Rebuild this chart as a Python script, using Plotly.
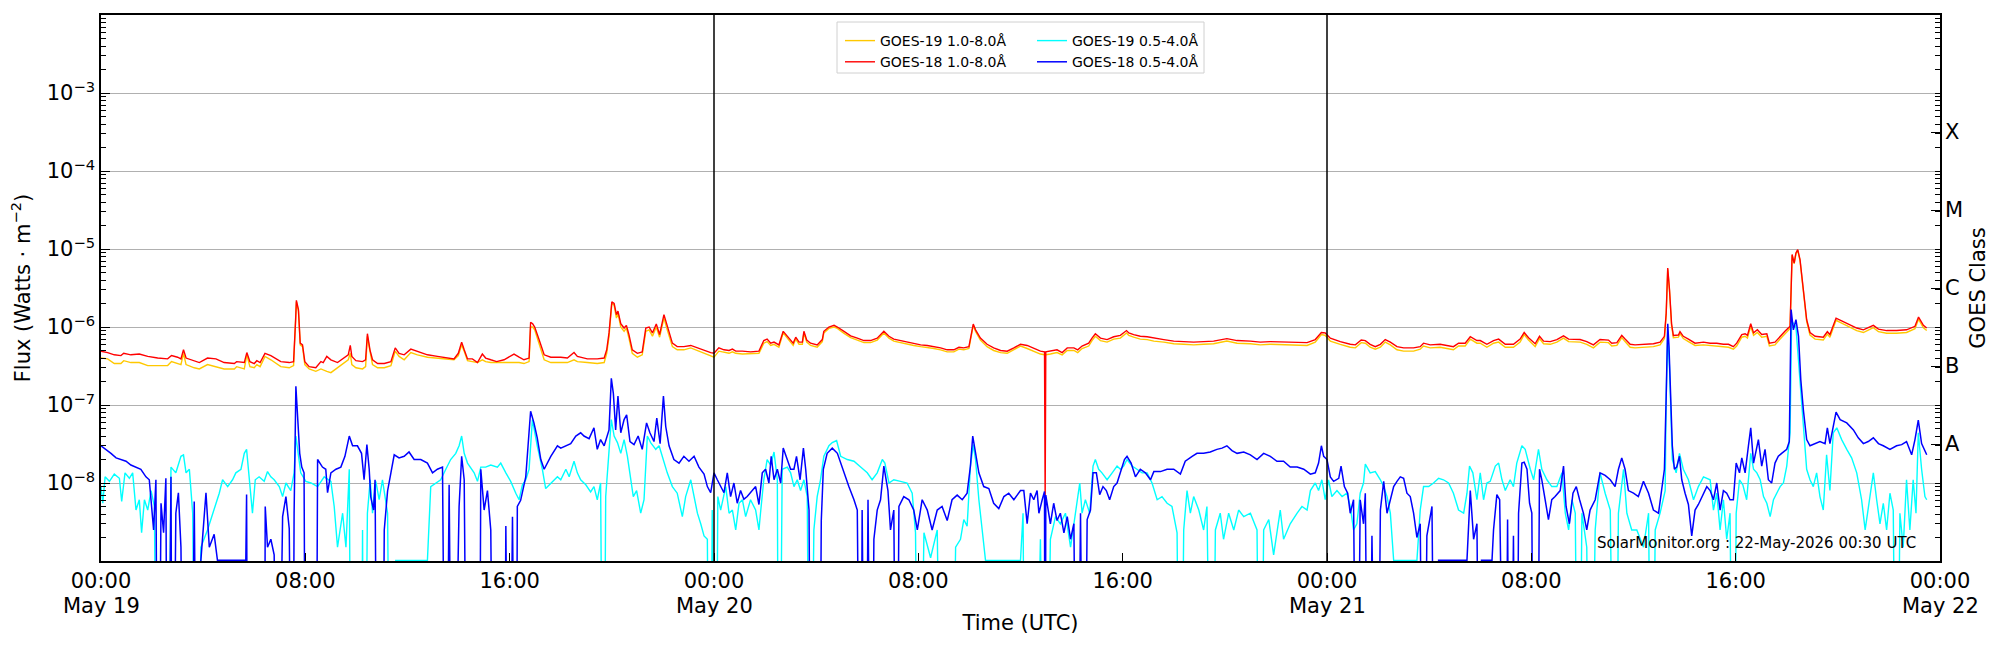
import pandas as pd
import plotly.graph_objects as go

OFF = 1e-13  # reading below the plotted floor (line leaves the axes)

# ---------------- 1.0-8.0 A channels (hours since 2026-05-19 00:00 UTC) ----------------
t_long_h = [
    0.00, 0.26, 0.52, 0.78, 0.89, 1.17, 1.50, 1.83, 2.22, 2.61, 2.76, 3.00, 3.13, 3.23, 3.33,
    3.65, 3.85, 4.17, 4.50, 4.82, 5.22, 5.31, 5.61, 5.71, 5.83, 6.00, 6.10, 6.23, 6.42, 6.65,
    7.04, 7.37, 7.54, 7.62, 7.65, 7.73, 7.80, 7.89, 7.98, 8.15, 8.41, 8.61, 8.70, 8.84, 9.00,
    9.26, 9.52, 9.68, 9.76, 9.82, 9.98, 10.24, 10.36, 10.43, 10.53, 10.63, 10.83, 11.09, 11.35, 11.52,
    11.67, 11.87, 12.13, 12.39, 12.78, 13.17, 13.56, 13.82, 13.99, 14.12, 14.22, 14.35, 14.54, 14.74, 14.93,
    15.06, 15.26, 15.49, 15.78, 16.17, 16.37, 16.56, 16.76, 16.82, 16.90, 16.98, 17.15, 17.35, 17.61, 18.00,
    18.26, 18.52, 18.65, 19.04, 19.43, 19.70, 19.80, 19.89, 20.00, 20.09,
    20.18, 20.24, 20.35, 20.48, 20.57, 20.67, 20.80, 21.00, 21.19, 21.33,
    21.46, 21.59, 21.74, 21.87, 22.04, 22.17, 22.37, 22.56, 22.82, 23.09,
    23.35, 23.61, 23.87, 24.00, 24.19, 24.39, 24.59, 24.72, 24.85, 25.11,
    25.43, 25.76, 25.95, 26.08, 26.22, 26.35, 26.54, 26.71, 26.87, 27.00,
    27.10, 27.20, 27.33, 27.46, 27.52, 27.63, 27.78, 28.04, 28.24, 28.30,
    28.50, 28.70, 28.83, 29.09, 29.35, 29.61, 29.87, 30.13, 30.39, 30.65,
    30.85, 31.04, 31.30, 31.56, 31.82, 32.09, 32.35, 32.61, 32.87, 33.13,
    33.39, 33.59, 33.78, 33.98, 34.15, 34.24, 34.43, 34.69, 34.95, 35.22,
    35.48, 35.74, 36.00,
    36.26, 36.52, 36.78, 36.94, 36.965, 36.99, 37.17, 37.43, 37.63, 37.83,
    38.09, 38.24, 38.41, 38.67, 38.80, 38.93, 39.13, 39.39, 39.65, 39.91,
    40.15, 40.24, 40.43, 40.69, 40.96, 41.22, 41.61, 42.00, 42.39, 42.78,
    43.17, 43.56, 44.08, 44.48, 45.00,
    45.39, 45.78, 46.30, 46.83, 47.22, 47.54, 47.78, 47.93, 48.13, 48.52,
    48.91, 49.11, 49.34, 49.50, 49.69, 49.89, 50.09, 50.28, 50.48, 50.74,
    51.00, 51.39, 51.65, 51.78, 52.04, 52.43, 52.69, 52.95, 53.15, 53.41,
    53.61, 53.87, 54.00,
    54.26, 54.52, 54.72, 54.98, 55.30, 55.56, 55.72, 55.89, 56.15, 56.32,
    56.48, 56.74, 57.00, 57.26, 57.46, 57.91, 58.17, 58.43, 58.69, 59.02,
    59.15, 59.35, 59.54, 59.67, 59.87, 60.06, 60.39, 60.78, 61.04, 61.21,
    61.28, 61.34, 61.41, 61.49, 61.56, 61.76, 61.82, 61.95, 62.15, 62.41,
    62.74, 63.00,
    63.26, 63.52, 63.72, 63.91, 64.04, 64.24, 64.37, 64.46, 64.59, 64.70,
    64.85, 65.02, 65.22, 65.32, 65.54, 65.74, 65.93, 66.13, 66.21, 66.29,
    66.36, 66.43, 66.52, 66.65, 66.78, 66.91, 67.11, 67.43, 67.59, 67.69,
    67.93, 68.15, 68.48, 68.74, 69.00, 69.39, 69.59, 69.91, 70.30, 70.69,
    71.02, 71.16, 71.35, 71.48,
]

goes18_long = [
    4.9e-7, 4.7e-7, 4.4e-7, 4.3e-7, 4.6e-7, 4.4e-7, 4.5e-7, 4.2e-7, 4.0e-7, 3.9e-7, 4.3e-7, 4.1e-7, 3.9e-7, 5.1e-7, 4.0e-7,
    3.7e-7, 3.5e-7, 4.0e-7, 3.9e-7, 3.5e-7, 3.4e-7, 3.6e-7, 3.5e-7, 4.7e-7, 3.6e-7, 3.4e-7, 3.7e-7, 3.5e-7, 4.6e-7, 4.3e-7,
    3.6e-7, 3.5e-7, 3.6e-7, 1.24e-6, 2.2e-6, 1.67e-6, 6.2e-7, 5.9e-7, 3.6e-7, 3.1e-7, 3.0e-7, 3.6e-7, 3.5e-7, 4.2e-7, 3.8e-7,
    3.5e-7, 4.0e-7, 4.4e-7, 5.8e-7, 4.2e-7, 3.7e-7, 3.6e-7, 3.8e-7, 8.2e-7, 5.1e-7, 3.8e-7, 3.4e-7, 3.4e-7, 3.6e-7, 5.4e-7,
    4.6e-7, 4.4e-7, 5.2e-7, 4.9e-7, 4.4e-7, 4.2e-7, 4.0e-7, 3.9e-7, 4.6e-7, 6.4e-7, 5.1e-7, 3.9e-7, 3.9e-7, 3.5e-7, 4.5e-7,
    4.0e-7, 3.8e-7, 3.6e-7, 3.8e-7, 4.5e-7, 4.1e-7, 3.8e-7, 4.0e-7, 1.15e-6, 1.1e-6, 1.0e-6, 6.9e-7, 4.4e-7, 4.1e-7, 4.1e-7,
    4.0e-7, 4.7e-7, 4.2e-7, 3.9e-7, 3.9e-7, 4.0e-7, 5.1e-7, 8.4e-7, 2.1e-6, 2.0e-6,
    1.44e-6, 1.6e-6, 1.1e-6, 9.7e-7, 1.05e-6, 8.0e-7, 5.1e-7, 4.6e-7, 4.8e-7, 9.7e-7,
    1.0e-6, 8.4e-7, 1.09e-6, 8.0e-7, 1.44e-6, 1.0e-6, 6.2e-7, 5.6e-7, 5.6e-7, 5.8e-7,
    5.4e-7, 5.0e-7, 4.7e-7, 4.6e-7, 5.4e-7, 5.1e-7, 5.0e-7, 5.2e-7, 4.9e-7, 4.9e-7,
    4.8e-7, 4.9e-7, 6.7e-7, 7.0e-7, 6.2e-7, 6.4e-7, 5.9e-7, 8.8e-7, 7.6e-7, 6.8e-7,
    6.2e-7, 7.4e-7, 6.4e-7, 6.4e-7, 8.8e-7, 6.8e-7, 6.2e-7, 5.9e-7, 6.9e-7, 8.8e-7,
    1.0e-6, 1.05e-6, 1.0e-6, 8.8e-7, 7.7e-7, 7.2e-7, 6.7e-7, 6.7e-7, 7.2e-7, 8.8e-7,
    7.6e-7, 7.0e-7, 6.7e-7, 6.5e-7, 6.2e-7, 5.9e-7, 5.8e-7, 5.6e-7, 5.4e-7, 5.1e-7,
    5.1e-7, 5.5e-7, 5.4e-7, 5.6e-7, 1.09e-6, 9.2e-7, 7.2e-7, 6.0e-7, 5.4e-7, 5.0e-7,
    4.9e-7, 5.4e-7, 6.0e-7,
    5.8e-7, 5.3e-7, 4.9e-7, 4.8e-7, 6.0e-9, 4.8e-7, 4.9e-7, 5.1e-7, 4.7e-7, 5.4e-7,
    5.4e-7, 5.1e-7, 5.7e-7, 6.2e-7, 7.2e-7, 8.2e-7, 7.2e-7, 6.9e-7, 7.5e-7, 7.8e-7,
    9.0e-7, 8.4e-7, 8.0e-7, 7.6e-7, 7.5e-7, 7.2e-7, 6.9e-7, 6.6e-7, 6.5e-7, 6.4e-7,
    6.5e-7, 6.6e-7, 7.1e-7, 6.7e-7, 6.6e-7,
    6.4e-7, 6.5e-7, 6.4e-7, 6.4e-7, 6.3e-7, 6.9e-7, 8.5e-7, 8.4e-7, 7.2e-7, 6.5e-7,
    6.0e-7, 5.9e-7, 6.8e-7, 6.7e-7, 6.0e-7, 5.6e-7, 6.0e-7, 6.9e-7, 6.4e-7, 5.6e-7,
    5.4e-7, 5.4e-7, 5.6e-7, 6.2e-7, 5.9e-7, 6.0e-7, 5.8e-7, 5.6e-7, 6.2e-7, 6.2e-7,
    7.5e-7, 6.7e-7, 6.7e-7,
    6.0e-7, 6.7e-7, 7.0e-7, 6.0e-7, 6.0e-7, 7.0e-7, 8.5e-7, 7.3e-7, 6.1e-7, 7.6e-7,
    6.6e-7, 6.5e-7, 6.9e-7, 7.7e-7, 7.0e-7, 6.9e-7, 6.5e-7, 5.9e-7, 6.9e-7, 6.8e-7,
    6.2e-7, 6.3e-7, 7.8e-7, 7.0e-7, 6.0e-7, 5.9e-7, 6.0e-7, 6.1e-7, 6.4e-7, 7.6e-7,
    1.5e-6, 5.7e-6, 3.0e-6, 1.1e-6, 7.8e-7, 7.9e-7, 8.7e-7, 7.6e-7, 7.0e-7, 6.2e-7,
    6.4e-7, 6.2e-7,
    6.2e-7, 6.0e-7, 6.0e-7, 5.6e-7, 6.2e-7, 8.0e-7, 8.2e-7, 7.8e-7, 1.1e-6, 8.4e-7,
    9.2e-7, 8.0e-7, 8.2e-7, 6.2e-7, 6.4e-7, 7.6e-7, 8.8e-7, 1.02e-6, 8.5e-6, 6.6e-6,
    8.9e-6, 9.8e-6, 7.3e-6, 3.0e-6, 1.24e-6, 8.5e-7, 7.6e-7, 7.4e-7, 8.7e-7, 8.0e-7,
    1.3e-6, 1.2e-6, 1.06e-6, 9.7e-7, 9.2e-7, 1.05e-6, 9.4e-7, 9.0e-7, 9.0e-7, 9.2e-7,
    1.02e-6, 1.34e-6, 1.05e-6, 9.7e-7,
]

goes19_long = [
    4.0e-7, 3.9e-7, 3.4e-7, 3.4e-7, 3.7e-7, 3.5e-7, 3.5e-7, 3.2e-7, 3.2e-7, 3.2e-7, 3.6e-7, 3.4e-7, 3.3e-7, 4.6e-7, 3.3e-7,
    3.0e-7, 2.9e-7, 3.3e-7, 3.1e-7, 2.9e-7, 2.9e-7, 3.1e-7, 2.9e-7, 4.4e-7, 3.1e-7, 3.0e-7, 3.3e-7, 3.1e-7, 4.2e-7, 3.8e-7,
    3.1e-7, 3.0e-7, 3.2e-7, 1.1e-6, 2.1e-6, 1.6e-6, 5.9e-7, 5.6e-7, 3.3e-7, 2.9e-7, 2.7e-7, 2.9e-7, 2.8e-7, 2.7e-7, 2.6e-7,
    3.0e-7, 3.5e-7, 3.8e-7, 4.6e-7, 3.3e-7, 3.0e-7, 2.9e-7, 3.1e-7, 7.6e-7, 4.9e-7, 3.3e-7, 3.0e-7, 3.0e-7, 3.2e-7, 4.9e-7,
    4.2e-7, 3.8e-7, 4.7e-7, 4.4e-7, 4.1e-7, 4.0e-7, 3.9e-7, 3.8e-7, 4.3e-7, 5.9e-7, 4.9e-7, 3.7e-7, 3.6e-7, 3.5e-7, 3.8e-7,
    3.6e-7, 3.5e-7, 3.5e-7, 3.5e-7, 3.5e-7, 3.5e-7, 3.4e-7, 3.6e-7, 1.0e-6, 1.0e-6, 9.2e-7, 6.2e-7, 3.8e-7, 3.5e-7, 3.5e-7,
    3.5e-7, 3.8e-7, 3.6e-7, 3.5e-7, 3.4e-7, 3.5e-7, 4.6e-7, 7.6e-7, 2.0e-6, 1.9e-6,
    1.3e-6, 1.5e-6, 1.0e-6, 8.8e-7, 9.7e-7, 7.2e-7, 4.6e-7, 4.1e-7, 4.4e-7, 8.8e-7,
    9.2e-7, 7.6e-7, 1.0e-6, 7.4e-7, 1.3e-6, 9.2e-7, 5.6e-7, 5.1e-7, 5.1e-7, 5.4e-7,
    5.0e-7, 4.6e-7, 4.3e-7, 4.1e-7, 4.9e-7, 4.7e-7, 4.6e-7, 4.8e-7, 4.6e-7, 4.5e-7,
    4.5e-7, 4.6e-7, 6.2e-7, 6.5e-7, 5.8e-7, 6.0e-7, 5.5e-7, 8.4e-7, 7.2e-7, 6.4e-7,
    5.8e-7, 7.0e-7, 6.0e-7, 6.0e-7, 8.4e-7, 6.4e-7, 5.8e-7, 5.5e-7, 6.5e-7, 8.4e-7,
    9.6e-7, 1.0e-6, 9.6e-7, 8.3e-7, 7.3e-7, 6.8e-7, 6.3e-7, 6.3e-7, 6.8e-7, 8.4e-7,
    7.2e-7, 6.6e-7, 6.3e-7, 6.1e-7, 5.8e-7, 5.6e-7, 5.5e-7, 5.3e-7, 5.1e-7, 4.8e-7,
    4.8e-7, 5.2e-7, 5.1e-7, 5.3e-7, 1.05e-6, 8.8e-7, 6.8e-7, 5.6e-7, 5.0e-7, 4.7e-7,
    4.6e-7, 5.1e-7, 5.7e-7,
    5.3e-7, 4.9e-7, 4.5e-7, 4.4e-7, 4.4e-7, 4.4e-7, 4.5e-7, 4.7e-7, 4.4e-7, 5.0e-7,
    5.0e-7, 4.7e-7, 5.3e-7, 5.7e-7, 6.7e-7, 7.6e-7, 6.7e-7, 6.4e-7, 7.0e-7, 7.2e-7,
    8.4e-7, 7.8e-7, 7.4e-7, 7.0e-7, 6.9e-7, 6.6e-7, 6.4e-7, 6.1e-7, 6.0e-7, 5.9e-7,
    6.0e-7, 6.1e-7, 6.6e-7, 6.2e-7, 6.1e-7,
    5.9e-7, 6.0e-7, 5.9e-7, 5.9e-7, 5.8e-7, 6.4e-7, 8.0e-7, 7.8e-7, 6.6e-7, 6.0e-7,
    5.5e-7, 5.4e-7, 6.3e-7, 6.2e-7, 5.5e-7, 5.2e-7, 5.5e-7, 6.4e-7, 5.9e-7, 5.1e-7,
    4.9e-7, 4.9e-7, 5.2e-7, 5.7e-7, 5.4e-7, 5.5e-7, 5.3e-7, 5.1e-7, 5.7e-7, 5.7e-7,
    7.0e-7, 6.2e-7, 6.2e-7,
    5.5e-7, 6.2e-7, 6.4e-7, 5.5e-7, 5.5e-7, 6.4e-7, 8.0e-7, 6.8e-7, 5.6e-7, 7.1e-7,
    6.1e-7, 6.0e-7, 6.4e-7, 7.2e-7, 6.5e-7, 6.4e-7, 6.0e-7, 5.4e-7, 6.4e-7, 6.3e-7,
    5.7e-7, 5.8e-7, 7.3e-7, 6.5e-7, 5.5e-7, 5.4e-7, 5.5e-7, 5.6e-7, 5.9e-7, 7.1e-7,
    1.45e-6, 5.5e-6, 2.9e-6, 1.05e-6, 7.3e-7, 7.4e-7, 8.2e-7, 7.1e-7, 6.5e-7, 5.8e-7,
    5.9e-7, 5.8e-7,
    5.7e-7, 5.5e-7, 5.5e-7, 5.2e-7, 5.7e-7, 7.4e-7, 7.6e-7, 7.2e-7, 1.02e-6, 7.8e-7,
    8.5e-7, 7.4e-7, 7.6e-7, 5.7e-7, 5.9e-7, 7.0e-7, 8.2e-7, 9.6e-7, 8.3e-6, 6.5e-6,
    8.7e-6, 9.6e-6, 7.1e-6, 2.9e-6, 1.18e-6, 7.9e-7, 7.0e-7, 6.8e-7, 8.1e-7, 7.4e-7,
    1.22e-6, 1.12e-6, 9.9e-7, 9.0e-7, 8.5e-7, 9.8e-7, 8.7e-7, 8.3e-7, 8.3e-7, 8.5e-7,
    9.5e-7, 1.26e-6, 9.8e-7, 9.0e-7,
]

# ---------------- GOES-18 0.5-4.0 A ----------------
t_g18_short_h = [
    0.00, 0.20, 0.39, 0.59, 0.78, 0.98, 1.17, 1.37, 1.56, 1.76,
    1.89, 1.96, 2.06, 2.15, 2.24, 2.35, 2.45, 2.54, 2.61, 2.74,
    2.80, 2.93, 3.03, 3.13, 3.26, 3.52, 3.65, 3.78, 3.91, 4.11,
    4.24, 4.43, 4.56, 5.67, 5.70, 5.76, 6.39, 6.43, 6.52, 6.65,
    6.78, 6.91, 7.11, 7.24, 7.37, 7.50, 7.56, 7.63, 7.69, 7.78,
    7.86, 7.95, 8.02, 8.41, 8.48, 8.67, 8.80, 8.87, 9.00,
    9.20, 9.39, 9.55, 9.72, 9.85, 10.04, 10.20, 10.30, 10.41, 10.50,
    10.56, 10.67, 10.73, 10.83, 11.00, 11.09, 11.22, 11.35, 11.48, 11.67,
    11.87, 12.06, 12.26, 12.52, 12.78, 12.98, 13.17, 13.37, 13.50, 13.63,
    13.76, 14.02, 14.12, 14.22, 14.35, 14.80, 14.87, 15.00, 15.13, 15.26,
    15.39, 15.78, 15.85, 15.98, 16.11, 16.24, 16.30, 16.43, 16.54, 16.63,
    16.72, 16.82, 16.95, 17.08, 17.22, 17.35, 17.61, 17.87, 18.00,
    18.20, 18.39, 18.59, 18.78, 18.91, 19.11, 19.30, 19.43, 19.56, 19.70,
    19.89, 19.98, 20.06, 20.15, 20.24, 20.35, 20.48, 20.58, 20.71, 20.87,
    21.03, 21.19, 21.36, 21.49, 21.65, 21.76, 21.89, 22.02, 22.11, 22.24,
    22.43, 22.63, 22.82, 23.02, 23.22, 23.41, 23.61, 23.74, 23.87, 24.00,
    24.13, 24.26, 24.39, 24.52, 24.65, 24.78, 24.91, 25.04, 25.17, 25.30,
    25.43, 25.63, 25.76, 25.89, 26.02, 26.15, 26.24, 26.35, 26.48, 26.61,
    26.71, 26.87, 27.00,
    27.13, 27.23, 27.37, 27.50, 27.59, 27.72, 27.81, 28.11, 28.20, 28.28,
    28.43, 28.63, 28.83, 28.96, 29.09, 29.28, 29.48, 29.61, 29.74, 29.80,
    29.93, 30.03, 30.16, 30.26, 30.39, 30.52, 30.65, 30.81, 30.91, 31.04,
    31.15, 31.24, 31.43, 31.63, 31.82, 31.96, 32.15, 32.35, 32.54, 32.74,
    32.93, 33.13, 33.32, 33.52, 33.72, 33.91, 34.04, 34.13, 34.24, 34.37,
    34.56, 34.76, 34.95, 35.15, 35.35, 35.54, 35.74, 36.00,
    36.13, 36.26, 36.39, 36.52, 36.65, 36.72, 36.85, 36.94, 36.965, 36.99,
    37.17, 37.30, 37.43, 37.56, 37.70, 37.83, 37.96, 38.09, 38.22, 38.35,
    38.48, 38.61, 38.74, 38.84, 38.97, 39.10, 39.23, 39.36, 39.49, 39.65,
    39.78, 39.91, 40.07, 40.17, 40.33, 40.50, 40.69, 40.89, 41.09, 41.22,
    41.48, 41.74, 42.00, 42.26, 42.45, 42.72, 42.91, 43.17, 43.43, 43.69,
    43.89, 44.08, 44.28, 44.48, 44.74, 45.00,
    45.26, 45.52, 45.78, 46.04, 46.30, 46.56, 46.83, 47.09, 47.35, 47.54,
    47.67, 47.78, 47.87, 48.00, 48.13, 48.26, 48.46, 48.55, 48.68, 48.81,
    48.91, 49.04, 49.17, 49.30, 49.43, 49.50, 49.63, 49.76, 49.96, 50.09,
    50.22, 50.35, 50.48, 50.61, 50.74, 50.87, 51.00, 51.13, 51.26, 51.39,
    51.52, 51.65, 51.78, 51.91, 52.11, 52.24, 52.37, 53.48, 53.61, 53.74,
    53.87, 54.00,
    54.05, 54.46, 54.52, 54.65, 54.76, 54.85, 54.98, 55.07, 55.17, 55.30,
    55.41, 55.50, 55.63, 55.72, 55.83, 55.93, 56.02, 56.11, 56.22, 56.32,
    56.41, 56.54, 56.67, 56.80, 56.93, 57.13, 57.26, 57.36, 57.49, 57.63,
    57.76, 57.89, 58.04, 58.17, 58.30, 58.50, 58.69, 58.89, 59.09, 59.28,
    59.41, 59.54, 59.67, 59.80, 60.00, 60.19, 60.39, 60.59, 60.78, 60.98,
    61.11, 61.21, 61.28, 61.30, 61.34, 61.39, 61.46, 61.52, 61.60, 61.69,
    61.80, 61.89, 62.02, 62.15, 62.28, 62.41, 62.54, 62.74, 62.87, 63.00,
    63.13, 63.26, 63.39, 63.52, 63.65, 63.78, 63.91, 64.02, 64.15, 64.24,
    64.37, 64.50, 64.59, 64.70, 64.83, 64.89, 65.02, 65.15, 65.28, 65.41,
    65.54, 65.67, 65.80, 66.00, 66.10, 66.17, 66.26, 66.36, 66.46, 66.55,
    66.65, 66.78, 66.91, 67.11, 67.30, 67.50, 67.59, 67.69, 67.85, 67.93,
    68.09, 68.35, 68.61, 68.80, 69.00, 69.19, 69.39, 69.59, 69.78, 70.04,
    70.30, 70.50, 70.69, 70.89, 71.02, 71.15, 71.28, 71.48,
]

goes18_short = [
    3.0e-8, 2.7e-8, 2.4e-8, 2.1e-8, 2.0e-8, 1.9e-8, 1.7e-8, 1.6e-8, 1.5e-8, 1.2e-8,
    1.1e-8, 6.0e-9, 2.5e-9, 1.1e-8, OFF, 5.5e-9, 2.3e-9, 1.15e-8, OFF, 1.2e-8,
    OFF, 4.1e-9, 7.5e-9, 1.5e-9, OFF, OFF, 5.8e-9, OFF, 1.02e-9, 7.5e-9,
    1.5e-9, 2.2e-9, 1.02e-9, 1.02e-9, 7.1e-9, OFF, OFF, 5.0e-9, 1.5e-9, 1.9e-9,
    1.2e-9, OFF, 3.7e-9, 6.7e-9, 2.6e-9, OFF, 4.1e-9, 1.74e-7, 7.9e-8, 2.4e-8,
    1.6e-8, 1.35e-8, OFF, OFF, 2.0e-8, 1.6e-8, 1.5e-8, 7.5e-9, 1.35e-8,
    1.5e-8, 1.6e-8, 2.2e-8, 4.0e-8, 3.0e-8, 3.0e-8, 2.4e-8, 1.1e-8, 3.1e-8, 1.5e-8,
    6.7e-9, 4.5e-9, 1.1e-8, OFF, OFF, 2.5e-9, 7.9e-9, 1.35e-8, 2.3e-8, 2.1e-8,
    2.2e-8, 2.5e-8, 2.0e-8, 2.0e-8, 1.8e-8, 1.35e-8, 1.5e-8, 1.6e-8, OFF, 9.5e-9,
    OFF, 5.0e-9, 2.2e-8, 1.1e-8, OFF, OFF, 1.5e-8, 4.5e-9, 8.0e-9, 2.5e-9,
    OFF, OFF, 2.8e-9, OFF, 3.7e-9, OFF, 5.0e-9, 6.0e-9, 9.0e-9, 1.2e-8,
    3.0e-8, 8.3e-8, 5.9e-8, 3.8e-8, 2.0e-8, 1.5e-8, 2.2e-8, 3.0e-8, 2.8e-8,
    3.0e-8, 3.2e-8, 4.0e-8, 4.4e-8, 4.0e-8, 3.7e-8, 5.1e-8, 2.7e-8, 3.6e-8, 3.0e-8,
    4.8e-8, 2.2e-7, 1.4e-7, 4.8e-8, 1.3e-7, 4.4e-8, 6.5e-8, 7.5e-8, 3.4e-8, 3.1e-8,
    4.0e-8, 2.7e-8, 5.9e-8, 4.4e-8, 3.4e-8, 6.8e-8, 3.2e-8, 1.3e-7, 5.3e-8, 3.0e-8,
    2.0e-8, 1.8e-8, 2.2e-8, 1.9e-8, 2.2e-8, 1.6e-8, 1.3e-8, 9.0e-9, 7.5e-9, 1.35e-8,
    1.1e-8, 9.0e-9, 7.5e-9, 1.35e-8, 6.7e-9, 1.0e-8, 5.5e-9, 8.0e-9, 6.2e-9, 6.7e-9,
    7.5e-9, 9.0e-9, 5.3e-9, 1.35e-8, 1.5e-8, 1.0e-8, 2.2e-8, 1.1e-8, 1.5e-8, 1.0e-8,
    2.8e-8, 2.0e-8, 1.5e-8,
    1.5e-8, 2.2e-8, 1.1e-8, 2.8e-8, 1.5e-8, 4.5e-9, OFF, OFF, 3.3e-9, 1.5e-8,
    2.4e-8, 2.8e-8, 2.4e-8, 1.8e-8, 1.35e-8, 9.0e-9, 6.1e-9, 4.5e-9, OFF, 4.5e-9,
    OFF, 6.1e-9, OFF, 1.9e-9, 4.5e-9, 6.1e-9, 1.65e-8, 8.0e-9, 2.5e-9, 4.5e-9,
    OFF, 5.0e-9, 6.7e-9, 6.1e-9, 4.5e-9, 2.5e-9, 6.1e-9, 4.5e-9, 2.5e-9, 4.5e-9,
    5.0e-9, 3.3e-9, 6.1e-9, 7.0e-9, 6.1e-9, 7.4e-9, 1.65e-8, 4.0e-8, 2.4e-8, 1.35e-8,
    9.0e-9, 8.5e-9, 5.5e-9, 4.7e-9, 6.7e-9, 7.4e-9, 6.1e-9, 8.0e-9,
    8.0e-9, 3.0e-9, 7.4e-9, 6.1e-9, 8.0e-9, 4.1e-9, 6.1e-9, 7.8e-9, OFF, 7.0e-9,
    3.0e-9, 5.5e-9, 3.3e-9, 4.1e-9, 2.3e-9, 3.7e-9, 1.9e-9, 3.0e-9, OFF, 4.1e-9,
    OFF, 3.4e-9, 4.5e-9, 1.35e-8, 1.35e-8, 7.1e-9, 9.0e-9, 8.0e-9, 6.1e-9, 9.0e-9,
    1.0e-8, 1.35e-8, 2.0e-8, 2.2e-8, 1.8e-8, 1.2e-8, 1.5e-8, 1.35e-8, 1.1e-8, 1.4e-8,
    1.4e-8, 1.5e-8, 1.5e-8, 1.3e-8, 1.9e-8, 2.2e-8, 2.4e-8, 2.4e-8, 2.5e-8, 2.7e-8,
    2.8e-8, 3.0e-8, 2.6e-8, 2.4e-8, 2.5e-8, 2.3e-8,
    2.0e-8, 2.4e-8, 2.2e-8, 1.9e-8, 1.9e-8, 1.6e-8, 1.6e-8, 1.5e-8, 1.3e-8, 1.35e-8,
    1.8e-8, 3.0e-8, 2.2e-8, 2.0e-8, 1.2e-8, 1.05e-8, 1.15e-8, 1.65e-8, 9.0e-9, 7.4e-9,
    4.1e-9, 6.1e-9, OFF, 6.1e-9, 3.0e-9, 7.4e-9, OFF, 2.1e-9, OFF, 4.5e-9,
    1.05e-8, 4.1e-9, 6.1e-9, 9.0e-9, 1.05e-8, 1.2e-8, 1.15e-8, 7.4e-9, 6.7e-9, 4.1e-9,
    2.0e-9, 3.0e-9, OFF, 2.1e-9, 5.0e-9, OFF, 1.02e-9, 1.02e-9, 8.0e-9, 1.9e-9,
    3.0e-9, OFF,
    1.02e-9, 1.02e-9, 2.5e-9, 7.1e-9, 6.1e-9, OFF, OFF, 3.4e-9, OFF, 2.1e-9,
    OFF, 4.1e-9, 1.8e-8, 1.85e-8, 1.5e-8, 5.5e-9, 4.1e-9, OFF, OFF, 1.5e-8,
    1.1e-8, 6.1e-9, 3.4e-9, 6.1e-9, 6.7e-9, 8.0e-9, 1.65e-8, 5.0e-9, 3.0e-9, 7.4e-9,
    9.0e-9, 6.1e-9, 4.1e-9, 2.5e-9, 4.5e-9, 6.1e-9, 1.35e-8, 1.25e-8, 1.1e-8, 9.0e-9,
    1.5e-8, 2.1e-8, 1.5e-8, 8.0e-9, 7.4e-9, 6.7e-9, 1.05e-8, 7.4e-9, 4.5e-9, 4.1e-9,
    8.0e-9, 1.5e-8, 1.3e-7, 3.1e-7, 1.1e-6, 5.6e-7, 1.3e-7, 3.0e-8, 1.5e-8, 1.6e-8,
    2.2e-8, 1.1e-8, 7.4e-9, 5.3e-9, 2.1e-9, 4.5e-9, 5.3e-9, 7.4e-9, 9.0e-9, 8.0e-9,
    6.1e-9, 1.0e-8, 4.5e-9, 8.0e-9, 7.4e-9, 6.1e-9, 6.1e-9, 1.8e-8, 1.35e-8, 2.1e-8,
    1.35e-8, 3.0e-8, 5.1e-8, 1.8e-8, 3.0e-8, 3.6e-8, 1.65e-8, 2.7e-8, 1.1e-8, 1.0e-8,
    1.8e-8, 2.2e-8, 2.4e-8, 2.7e-8, 3.4e-8, 1.67e-6, 9.2e-7, 1.24e-6, 7.6e-7, 2.1e-7,
    8.7e-8, 3.6e-8, 3.0e-8, 3.2e-8, 3.4e-8, 3.2e-8, 5.1e-8, 3.2e-8, 5.9e-8, 8.1e-8,
    6.5e-8, 5.9e-8, 4.8e-8, 3.8e-8, 3.2e-8, 3.4e-8, 3.8e-8, 3.2e-8, 3.0e-8, 2.7e-8,
    3.0e-8, 3.1e-8, 3.4e-8, 2.3e-8, 3.6e-8, 6.4e-8, 3.2e-8, 2.3e-8,
]

# ---------------- GOES-19 0.5-4.0 A ----------------
t_g19_short_h = [
    0.00, 0.07, 0.16, 0.33, 0.52, 0.72, 0.81, 0.94, 1.11, 1.24,
    1.37, 1.50, 1.59, 1.70, 1.83, 1.96, 2.09, 2.22, 2.61, 2.74,
    2.93, 3.13, 3.23, 3.33, 3.46, 3.59, 3.72, 3.91, 4.17, 4.43,
    4.63, 4.76, 4.96, 5.15, 5.28, 5.48, 5.61, 5.70, 5.80, 5.93,
    6.04, 6.19, 6.39, 6.52, 6.65, 6.78, 6.98, 7.11, 7.24, 7.43,
    7.56, 7.63, 7.82, 8.02, 8.22, 8.48, 8.74, 9.00,
    9.13, 9.26, 9.46, 9.59, 9.72, 9.81, 10.17, 10.24, 10.30, 10.43,
    10.54, 10.63, 10.76, 10.89, 11.02, 11.22, 11.35, 11.54, 12.78, 12.91,
    13.11, 13.30, 13.50, 13.69, 13.89, 14.02, 14.12, 14.22, 14.35, 14.61,
    14.74, 14.87, 15.06, 15.26, 15.52, 15.65, 15.85, 16.04, 16.24, 16.37,
    16.50, 16.63, 16.76, 16.89, 17.08, 17.28, 17.41, 17.61, 17.87, 18.00,
    18.20, 18.33, 18.52, 18.65, 18.78, 18.98, 19.17, 19.30, 19.43, 19.56,
    19.67, 19.76, 19.89, 19.98, 20.09, 20.22, 20.35, 20.48, 20.61, 20.74,
    20.84, 20.97, 21.13, 21.26, 21.39, 21.52, 21.72, 21.85, 21.98, 22.17,
    22.37, 22.56, 22.76, 22.89, 23.09, 23.22, 23.35, 23.48, 23.61, 23.74,
    23.84, 23.93, 24.06, 24.15, 24.26, 24.46, 24.59, 24.72, 24.85, 24.98,
    25.11, 25.24, 25.43, 25.63, 25.76, 25.82, 25.95, 26.08, 26.22, 26.35,
    26.48, 26.54, 26.67, 26.87, 27.00,
    27.13, 27.26, 27.39, 27.52, 27.65, 27.76, 27.91, 28.04, 28.17, 28.30,
    28.50, 28.63, 28.80, 28.96, 29.22, 29.48, 29.74, 30.00, 30.19, 30.39,
    30.59, 30.69, 30.85, 31.04, 31.30, 31.56, 31.76, 31.89, 32.02, 32.22,
    32.48, 32.74, 32.93, 33.26, 33.46, 33.65, 33.78, 33.91, 34.04, 34.15,
    34.24, 34.37, 34.50, 34.63, 36.00,
    36.10, 36.20, 36.52, 36.78, 36.98, 37.17, 37.37, 37.56, 37.76, 37.96,
    38.15, 38.32, 38.41, 38.54, 38.71, 38.84, 38.93, 39.06, 39.19, 39.39,
    39.59, 39.78, 39.91, 40.04, 40.17, 40.37, 40.56, 40.76, 40.96, 41.15,
    41.35, 41.54, 41.74, 41.93, 42.13, 42.26, 42.39, 42.52, 42.65, 42.78,
    42.98, 43.17, 43.30, 43.50, 43.63, 43.82, 43.95, 44.15, 44.35, 44.54,
    44.74, 45.00,
    45.26, 45.39, 45.52, 45.72, 45.91, 46.17, 46.30, 46.56, 46.83, 47.02,
    47.22, 47.35, 47.54, 47.67, 47.80, 47.93, 48.06, 48.19, 48.39, 48.59,
    48.78, 48.91, 49.04, 49.17, 49.30, 49.43, 49.50, 49.69, 49.89, 50.09,
    50.22, 50.35, 50.48, 50.61, 51.52, 51.65, 51.78, 51.98, 52.17, 52.37,
    52.56, 52.76, 52.95, 53.15, 53.35, 53.48, 53.58, 53.71, 53.87, 54.00,
    54.13, 54.26, 54.39, 54.59, 54.72, 54.85, 54.98, 55.17, 55.30, 55.43,
    55.63, 55.76, 55.96, 56.09, 56.28, 56.41, 56.61, 56.80, 57.00, 57.20,
    57.33, 57.46, 57.59, 57.72, 57.85, 57.98, 58.17, 58.30, 58.50, 58.69,
    58.89, 59.09, 59.28, 59.41, 59.61, 59.74, 59.93, 60.13, 60.39, 60.59,
    60.72, 60.85, 61.04, 61.24, 61.28, 61.34, 61.41, 61.46, 61.52, 61.67,
    61.80, 61.95, 62.15, 62.35, 62.54, 62.74, 63.00,
    63.13, 63.26, 63.39, 63.52, 63.65, 63.78, 63.91, 64.02, 64.15, 64.28,
    64.43, 64.59, 64.70, 64.83, 64.96, 65.09, 65.22, 65.35, 65.48, 65.61,
    65.74, 65.87, 66.00, 66.13, 66.19, 66.36, 66.52, 66.65, 66.78, 66.91,
    67.04, 67.17, 67.30, 67.43, 67.56, 67.69, 67.82, 67.96, 68.15, 68.35,
    68.54, 68.74, 68.93, 69.07, 69.19, 69.39, 69.52, 69.65, 69.78, 69.91,
    70.04, 70.17, 70.30, 70.43, 70.56, 70.69, 70.82, 70.95, 71.06, 71.15,
    71.28, 71.41, 71.48,
]

goes19_short = [
    9.0e-9, 5.5e-9, 1.2e-8, 1.05e-8, 1.3e-8, 1.15e-8, 5.8e-9, 1.35e-8, 1.15e-8, 1.35e-8,
    4.5e-9, 6.1e-9, 2.3e-9, 6.1e-9, 4.5e-9, 8.0e-9, 5.0e-9, OFF, OFF, 1.6e-8,
    1.35e-8, 2.2e-8, 2.3e-8, 1.35e-8, 1.5e-8, 4.1e-9, OFF, 1.5e-9, 2.5e-9, 4.5e-9,
    7.4e-9, 1.1e-8, 9.0e-9, 1.1e-8, 1.35e-8, 1.5e-8, 2.4e-8, 2.7e-8, 1.2e-8, 4.1e-9,
    1.1e-8, 1.2e-8, 1.05e-8, 1.4e-8, 1.2e-8, 1.1e-8, 9.0e-9, 6.7e-9, 1.0e-8, 8.0e-9,
    1.35e-8, 4.0e-8, 1.35e-8, 1.05e-8, 1.0e-8, 9.0e-9, 1.2e-8, 1.05e-8,
    5.0e-9, 1.5e-9, 4.1e-9, 1.5e-9, 1.5e-8, OFF, OFF, 2.5e-9, OFF, 4.1e-9,
    1.1e-8, 4.1e-9, 1.05e-8, 6.1e-9, 1.1e-8, 4.1e-9, OFF, 1.02e-9, 1.02e-9, 9.0e-9,
    1.0e-8, 1.1e-8, 1.5e-8, 2.0e-8, 2.4e-8, 3.0e-8, 4.0e-8, 2.4e-8, 1.8e-8, 1.35e-8,
    1.05e-8, 1.6e-8, 1.6e-8, 1.7e-8, 1.6e-8, 1.8e-8, 1.35e-8, 1.05e-8, 7.4e-9, 6.1e-9,
    9.5e-9, 1.1e-8, 1.5e-8, 6.5e-8, 3.0e-8, 1.5e-8, 8.5e-9, 1.0e-8, 1.2e-8, 1.1e-8,
    1.5e-8, 1.2e-8, 1.9e-8, 1.35e-8, 1.1e-8, 9.5e-9, 7.7e-9, 9.0e-9, 6.1e-9, 1.0e-8,
    OFF, 6.7e-9, 3.0e-8, 6.5e-8, 4.0e-8, 3.3e-8, 2.4e-8, 3.6e-8, 2.2e-8, 1.1e-8,
    6.7e-9, 8.0e-9, 4.1e-9, 6.1e-9, 4.0e-8, 3.3e-8, 2.7e-8, 3.0e-8, 2.1e-8, 1.35e-8,
    9.0e-9, 7.4e-9, 3.7e-9, 6.7e-9, 1.1e-8, 6.7e-9, 4.1e-9, 3.0e-9, 2.1e-9, 1.9e-9,
    OFF, 4.5e-9, OFF, 6.7e-9, 4.5e-9, 9.0e-9, 4.1e-9, 4.5e-9, 2.5e-9, 5.5e-9,
    6.1e-9, 3.7e-9, 6.1e-9, 4.5e-9, 2.5e-9, 4.1e-9, 1.1e-8, 2.0e-8, 1.7e-8, 2.5e-8,
    1.1e-8, OFF, 1.5e-8, 1.6e-8, 1.35e-8,
    9.0e-9, 1.1e-8, 8.0e-9, 1.1e-8, 6.7e-9, OFF, 2.5e-9, 6.7e-9, 1.1e-8, 2.2e-8,
    3.0e-8, 3.3e-8, 3.5e-8, 2.2e-8, 2.0e-8, 1.9e-8, 1.6e-8, 1.35e-8, 1.1e-8, 1.35e-8,
    2.0e-8, 1.8e-8, 1.0e-8, 1.1e-8, 1.05e-8, 1.0e-8, 7.4e-9, 2.3e-9, OFF, 2.3e-9,
    1.1e-9, 2.5e-9, OFF, OFF, 1.5e-9, 1.9e-9, 3.4e-9, 2.8e-9, 1.65e-8, 3.1e-8,
    2.0e-8, 6.1e-9, 2.5e-9, 1.02e-9, 1.02e-9,
    4.1e-9, OFF, OFF, 1.9e-9, OFF, 1.9e-9, 3.7e-9, 3.0e-9, 4.1e-9, 1.5e-9,
    4.1e-9, 1.0e-8, 4.1e-9, 6.1e-9, 4.1e-9, 1.65e-8, 2.0e-8, 1.5e-8, 1.35e-8, 1.1e-8,
    1.35e-8, 1.65e-8, 1.5e-8, 1.65e-8, 2.0e-8, 1.65e-8, 1.5e-8, 1.35e-8, 1.35e-8, 1.0e-8,
    6.1e-9, 6.7e-9, 5.5e-9, 5.0e-9, 2.3e-9, OFF, 2.5e-9, 8.0e-9, 4.1e-9, 6.7e-9,
    4.5e-9, 2.5e-9, 5.0e-9, OFF, 2.5e-9, 4.1e-9, 1.9e-9, 4.1e-9, 2.5e-9, 4.5e-9,
    3.7e-9, 4.1e-9,
    2.5e-9, OFF, 2.5e-9, 3.4e-9, 1.2e-9, 4.5e-9, 1.9e-9, 3.0e-9, 4.1e-9, 5.0e-9,
    4.5e-9, 8.0e-9, 1.0e-8, 8.0e-9, 1.1e-8, 6.1e-9, 1.1e-8, 6.7e-9, 8.0e-9, 6.7e-9,
    7.4e-9, 5.0e-9, 2.5e-9, 3.0e-9, 7.4e-9, 1.0e-8, 1.75e-8, 1.35e-8, 1.4e-8, 1.1e-8,
    9.0e-9, 6.7e-9, 4.1e-9, 1.02e-9, 1.02e-9, 4.5e-9, 9.0e-9, 9.0e-9, 1.0e-8, 1.15e-8,
    1.1e-8, 1.0e-8, 7.4e-9, 4.5e-9, 4.1e-9, 7.4e-9, 1.65e-8, 1.35e-8, 6.1e-9, 1.35e-8,
    6.1e-9, 1.0e-8, 1.05e-8, 1.65e-8, 1.8e-8, 1.1e-8, 8.0e-9, 1.1e-8, 9.0e-9, 1.8e-8,
    3.0e-8, 2.7e-8, 1.5e-8, 1.1e-8, 2.7e-8, 1.5e-8, 1.1e-8, 9.0e-9, 9.0e-9, 1.35e-8,
    4.1e-9, 2.5e-9, 6.1e-9, 4.1e-9, OFF, 4.1e-9, 1.5e-9, OFF, 2.5e-9, 1.35e-8,
    7.4e-9, 4.5e-9, OFF, 4.1e-9, 1.5e-8, 4.1e-9, 2.5e-9, 2.5e-9, 1.5e-9, 4.1e-9,
    OFF, 2.5e-9, 4.1e-9, 8.0e-9, 1.2e-7, 9.0e-7, 3.0e-7, 8.0e-8, 2.0e-8, 1.35e-8,
    2.4e-8, 1.5e-8, 1.1e-8, 6.1e-9, 9.0e-9, 1.2e-8, 1.1e-8,
    4.5e-9, 7.4e-9, 2.5e-9, 6.1e-9, 1.9e-9, 4.1e-9, OFF, 4.1e-9, 1.1e-8, 9.5e-9,
    6.1e-9, 2.4e-8, 1.5e-8, 1.35e-8, 1.1e-8, 6.7e-9, 5.5e-9, 3.7e-9, 6.1e-9, 7.4e-9,
    9.0e-9, 1.0e-8, 1.65e-8, 4.4e-8, 1.2e-6, 1.0e-6, 2.0e-7, 5.0e-8, 1.5e-8, 1.1e-8,
    9.0e-9, 1.35e-8, 6.7e-9, 4.5e-9, 2.3e-8, 8.0e-9, 4.4e-8, 5.1e-8, 3.6e-8, 2.7e-8,
    2.1e-8, 1.35e-8, 6.1e-9, 2.5e-9, 4.5e-9, 1.35e-8, 6.1e-9, 3.0e-9, 5.5e-9, 2.5e-9,
    7.4e-9, 4.5e-9, OFF, 4.1e-9, 1.5e-9, 1.1e-8, 2.5e-9, 1.1e-8, 4.1e-9, 4.4e-8,
    1.5e-8, 6.7e-9, 6.1e-9,
]

# ---------------- axes text ----------------
x_tick_hours = [0, 8, 16, 24, 32, 40, 48, 56, 64, 72]
x_tick_text = ["00:00", "08:00", "16:00", "00:00", "08:00", "16:00", "00:00", "08:00", "16:00", "00:00"]
date_label_hours = [0, 24, 48, 72]
date_labels = ["May 19", "May 20", "May 21", "May 22"]
flux_ticks = [1e-8, 1e-7, 1e-6, 1e-5, 1e-4, 1e-3]
flux_tick_text = ["10<sup>−8</sup>", "10<sup>−7</sup>", "10<sup>−6</sup>", "10<sup>−5</sup>",
                  "10<sup>−4</sup>", "10<sup>−3</sup>"]
class_ticks = [10 ** -7.5, 10 ** -6.5, 10 ** -5.5, 10 ** -4.5, 10 ** -3.5]
class_text = ["A", "B", "C", "M", "X"]
day_lines_h = [24, 48]
stamp = "SolarMonitor.org : 22-May-2026 00:30 UTC"

base = pd.Timestamp("2026-05-19 00:00")
def to_time(hours):
    return base + pd.to_timedelta(pd.Series(hours, dtype=float), unit="h")

FONT = "DejaVu Sans"
fig = go.Figure()
fig.add_trace(go.Scatter(x=to_time(t_long_h), y=goes19_long, mode="lines", name="GOES-19 1.0-8.0Å",
                         line=dict(color="#ffc800", width=1.4), legend="legend"))
fig.add_trace(go.Scatter(x=to_time(t_long_h), y=goes18_long, mode="lines", name="GOES-18 1.0-8.0Å",
                         line=dict(color="#ff0000", width=1.4), legend="legend"))
fig.add_trace(go.Scatter(x=to_time(t_g19_short_h), y=goes19_short, mode="lines", name="GOES-19 0.5-4.0Å",
                         line=dict(color="#00ffff", width=1.4), legend="legend2"))
# drawn against the right-hand class axis (identical log range) so that axis is rendered
fig.add_trace(go.Scatter(x=to_time(t_g18_short_h), y=goes18_short, mode="lines", name="GOES-18 0.5-4.0Å",
                         line=dict(color="#0000ff", width=1.5), legend="legend2", yaxis="y2"))

W, H = 2000, 650
ML, MR, MT, MB = 101, 60, 15, 89
PW, PH = W - ML - MR, H - MT - MB
def px(xp):
    return (xp - ML) / PW
def py(yp):
    return (H - MB - yp) / PH

x_end = base + pd.Timedelta(hours=72)
shapes = []
for h in day_lines_h:
    xv = base + pd.Timedelta(hours=h)
    shapes.append(dict(type="line", xref="x", yref="paper", x0=xv, x1=xv, y0=0, y1=1,
                       line=dict(color="black", width=1.5), layer="above"))
shapes.append(dict(type="rect", xref="paper", yref="paper", x0=px(837), x1=px(1204), y0=py(73), y1=py(22),
                   line=dict(color="#d0d0d0", width=1), fillcolor="rgba(255,255,255,0.8)", layer="below"))

annotations = [dict(text=stamp, xref="paper", yref="paper", x=px(1918), y=py(543), xanchor="right",
                    yanchor="middle", showarrow=False, font=dict(size=15, family=FONT, color="black"))]
for h, lab in zip(date_label_hours, date_labels):
    annotations.append(dict(text=lab, xref="x", yref="paper", x=base + pd.Timedelta(hours=h), y=py(606),
                            xanchor="center", yanchor="middle", showarrow=False,
                            font=dict(size=21, family=FONT, color="black")))

fig.update_layout(
    width=W, height=H, margin=dict(l=ML, r=MR, t=MT, b=MB),
    paper_bgcolor="white", plot_bgcolor="white",
    font=dict(family=FONT, color="black", size=21),
    hovermode=False, shapes=shapes, annotations=annotations,
    legend=dict(x=px(840), y=py(25), xanchor="left", yanchor="top", bgcolor="rgba(0,0,0,0)",
                borderwidth=0, font=dict(size=14, family=FONT), tracegroupgap=4, traceorder="normal"),
    legend2=dict(x=px(1032), y=py(25), xanchor="left", yanchor="top", bgcolor="rgba(0,0,0,0)",
                 borderwidth=0, font=dict(size=14, family=FONT), tracegroupgap=4, traceorder="normal"),
    xaxis=dict(type="date", range=[base, x_end], tickmode="array",
               tickvals=[base + pd.Timedelta(hours=h) for h in x_tick_hours], ticktext=x_tick_text,
               ticks="inside", ticklen=8, tickwidth=1.2, tickcolor="black",
               showgrid=False, zeroline=False, showline=True, linecolor="black", linewidth=1.5, mirror=True,
               tickfont=dict(size=21), title=dict(text="Time (UTC)", font=dict(size=21), standoff=23)),
    yaxis=dict(type="log", range=[-9, -2], tickmode="array", tickvals=flux_ticks, ticktext=flux_tick_text,
               ticks="inside", ticklen=9, tickwidth=1.2, tickcolor="black",
               showgrid=True, gridcolor="#b0b0b0", gridwidth=1, zeroline=False,
               showline=True, linecolor="black", linewidth=1.5, mirror=True,
               minor=dict(ticks="inside", ticklen=5, tickwidth=1, tickcolor="black", dtick="D1", showgrid=False),
               tickfont=dict(size=21),
               title=dict(text="Flux (Watts · m<sup>−2</sup>)", font=dict(size=21), standoff=10)),
    yaxis2=dict(type="log", range=[-9, -2], overlaying="y", side="right", tickmode="array",
                tickvals=class_ticks, ticktext=class_text, ticks="inside", ticklen=9, tickwidth=1.2,
                tickcolor="black", showgrid=False, zeroline=False, showline=False, ticklabelstandoff=4,
                minor=dict(ticks="inside", ticklen=5, tickwidth=1, tickcolor="black", dtick="D1", showgrid=False),
                tickfont=dict(size=21), title=dict(text="GOES Class", font=dict(size=21), standoff=8)),
)

fig.write_html("out.html")
